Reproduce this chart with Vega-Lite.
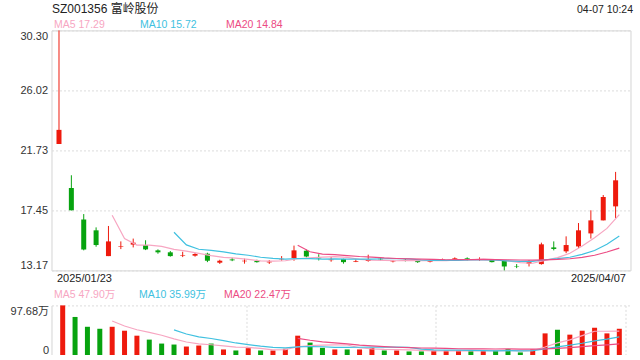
{
  "$schema": "https://vega.github.io/schema/vega-lite/v6.json",
  "background": "#ffffff",
  "padding": {"left": 9.5, "top": 1.4, "right": 0, "bottom": 0},
  "datasets": {
    "k": [
      {"d":"2025-01-23","i":0,"o":22.19,"h":30.3,"l":22.19,"c":23.2,"v":97.68},
      {"d":"2025-01-24","i":1,"o":19.05,"h":19.96,"l":17.45,"c":17.46,"v":75.1},
      {"d":"2025-01-27","i":2,"o":16.81,"h":17.19,"l":14.6,"c":14.67,"v":55.9},
      {"d":"2025-02-05","i":3,"o":16.03,"h":16.24,"l":14.86,"c":14.98,"v":52.0},
      {"d":"2025-02-06","i":4,"o":14.19,"h":16.34,"l":14.19,"c":15.24,"v":55.9,"MA5":17.11,"VMA5":67.32},
      {"d":"2025-02-07","i":5,"o":14.84,"h":15.24,"l":14.69,"c":14.88,"v":48.2,"MA5":15.45,"VMA5":57.42},
      {"d":"2025-02-10","i":6,"o":15.01,"h":15.44,"l":14.81,"c":15.15,"v":38.5,"MA5":14.98,"VMA5":50.10},
      {"d":"2025-02-11","i":7,"o":14.98,"h":15.32,"l":14.62,"c":14.67,"v":30.8,"MA5":14.98,"VMA5":45.08},
      {"d":"2025-02-12","i":8,"o":14.6,"h":14.67,"l":14.36,"c":14.46,"v":23.1,"MA5":14.88,"VMA5":39.30},
      {"d":"2025-02-13","i":9,"o":14.46,"h":14.55,"l":14.15,"c":14.19,"v":21.2,"MA5":14.67,"MA10":15.89,"VMA5":32.36,"VMA10":49.84},
      {"d":"2025-02-14","i":10,"o":14.2,"h":14.5,"l":14.12,"c":14.24,"v":17.3,"MA5":14.54,"MA10":14.99,"VMA5":26.18,"VMA10":41.80},
      {"d":"2025-02-17","i":11,"o":14.22,"h":14.4,"l":14.15,"c":14.34,"v":19.3,"MA5":14.38,"MA10":14.68,"VMA5":22.34,"VMA10":36.22},
      {"d":"2025-02-18","i":12,"o":14.36,"h":14.43,"l":13.76,"c":13.86,"v":23.1,"MA5":14.22,"MA10":14.60,"VMA5":20.80,"VMA10":32.94},
      {"d":"2025-02-19","i":13,"o":13.72,"h":13.93,"l":13.63,"c":13.86,"v":11.6,"MA5":14.10,"MA10":14.49,"VMA5":18.50,"VMA10":28.90},
      {"d":"2025-02-20","i":14,"o":13.95,"h":14.07,"l":13.83,"c":13.89,"v":9.6,"MA5":14.04,"MA10":14.35,"VMA5":16.18,"VMA10":24.27},
      {"d":"2025-02-21","i":15,"o":13.82,"h":14.01,"l":13.65,"c":13.86,"v":14.1,"MA5":13.96,"MA10":14.25,"VMA5":15.54,"VMA10":20.86},
      {"d":"2025-02-24","i":16,"o":13.84,"h":13.93,"l":13.72,"c":13.76,"v":9.6,"MA5":13.85,"MA10":14.11,"VMA5":13.60,"VMA10":17.97},
      {"d":"2025-02-25","i":17,"o":13.74,"h":13.91,"l":13.63,"c":13.8,"v":9.6,"MA5":13.83,"MA10":14.03,"VMA5":10.90,"VMA10":15.85},
      {"d":"2025-02-26","i":18,"o":13.96,"h":14.19,"l":13.86,"c":13.99,"v":12.9,"MA5":13.86,"MA10":13.98,"VMA5":11.16,"VMA10":14.83},
      {"d":"2025-02-27","i":19,"o":14.05,"h":14.94,"l":13.86,"c":14.6,"v":38.5,"MA5":14.00,"MA10":14.02,"MA20":14.96,"VMA5":16.94,"VMA10":16.56,"VMA20":33.20},
      {"d":"2025-02-28","i":20,"o":14.58,"h":14.65,"l":14.1,"c":14.17,"v":25.0,"MA5":14.06,"MA10":14.01,"MA20":14.50,"VMA5":19.12,"VMA10":17.33,"VMA20":29.57},
      {"d":"2025-03-03","i":21,"o":14.08,"h":14.32,"l":13.88,"c":14.03,"v":14.8,"MA5":14.12,"MA10":13.98,"MA20":14.33,"VMA5":20.16,"VMA10":16.88,"VMA20":26.55},
      {"d":"2025-03-04","i":22,"o":13.9,"h":14.12,"l":13.79,"c":13.94,"v":11.6,"MA5":14.15,"MA10":13.99,"MA20":14.30,"VMA5":20.56,"VMA10":15.73,"VMA20":24.34},
      {"d":"2025-03-05","i":23,"o":13.98,"h":14.0,"l":13.65,"c":13.76,"v":11.6,"MA5":14.10,"MA10":13.98,"MA20":14.23,"VMA5":20.30,"VMA10":15.73,"VMA20":22.32},
      {"d":"2025-03-06","i":24,"o":13.79,"h":13.96,"l":13.76,"c":13.84,"v":11.6,"MA5":13.95,"MA10":13.98,"MA20":14.16,"VMA5":14.92,"VMA10":15.93,"VMA20":20.10},
      {"d":"2025-03-07","i":25,"o":13.84,"h":14.29,"l":13.79,"c":13.94,"v":14.8,"MA5":13.90,"MA10":13.98,"MA20":14.12,"VMA5":12.88,"VMA10":16.00,"VMA20":18.43},
      {"d":"2025-03-10","i":26,"o":14.0,"h":14.12,"l":13.86,"c":13.96,"v":9.6,"MA5":13.89,"MA10":14.00,"MA20":14.06,"VMA5":11.84,"VMA10":16.00,"VMA20":16.99},
      {"d":"2025-03-11","i":27,"o":13.79,"h":13.91,"l":13.74,"c":13.82,"v":9.6,"MA5":13.86,"MA10":14.01,"MA20":14.02,"VMA5":11.44,"VMA10":16.00,"VMA20":15.93},
      {"d":"2025-03-12","i":28,"o":13.92,"h":13.98,"l":13.81,"c":13.89,"v":7.7,"MA5":13.89,"MA10":13.99,"MA20":13.99,"VMA5":10.66,"VMA10":15.48,"VMA20":15.16},
      {"d":"2025-03-13","i":29,"o":13.88,"h":13.9,"l":13.7,"c":13.76,"v":7.7,"MA5":13.87,"MA10":13.91,"MA20":13.97,"VMA5":9.88,"VMA10":12.40,"VMA20":14.48},
      {"d":"2025-03-14","i":30,"o":13.79,"h":13.96,"l":13.74,"c":13.92,"v":9.6,"MA5":13.87,"MA10":13.89,"MA20":13.95,"VMA5":8.84,"VMA10":10.86,"VMA20":14.10},
      {"d":"2025-03-17","i":31,"o":13.92,"h":14.01,"l":13.88,"c":13.95,"v":9.6,"MA5":13.87,"MA10":13.88,"MA20":13.93,"VMA5":8.84,"VMA10":10.34,"VMA20":13.61},
      {"d":"2025-03-18","i":32,"o":13.93,"h":14.1,"l":13.88,"c":14.03,"v":9.6,"MA5":13.91,"MA10":13.89,"MA20":13.94,"VMA5":8.84,"VMA10":10.14,"VMA20":12.94},
      {"d":"2025-03-19","i":33,"o":14.03,"h":14.1,"l":13.88,"c":13.98,"v":8.3,"MA5":13.93,"MA10":13.91,"MA20":13.94,"VMA5":8.96,"VMA10":9.81,"VMA20":12.77},
      {"d":"2025-03-20","i":34,"o":13.95,"h":14.1,"l":13.86,"c":13.97,"v":8.3,"MA5":13.97,"MA10":13.92,"MA20":13.95,"VMA5":9.08,"VMA10":9.48,"VMA20":12.71},
      {"d":"2025-03-21","i":35,"o":13.93,"h":13.96,"l":13.74,"c":13.76,"v":9.6,"MA5":13.94,"MA10":13.90,"MA20":13.94,"VMA5":9.08,"VMA10":8.96,"VMA20":12.48},
      {"d":"2025-03-24","i":36,"o":13.86,"h":13.9,"l":13.17,"c":13.45,"v":12.1,"MA5":13.84,"MA10":13.85,"MA20":13.93,"VMA5":9.58,"VMA10":9.21,"VMA20":12.61},
      {"d":"2025-03-25","i":37,"o":13.45,"h":13.62,"l":13.33,"c":13.42,"v":5.8,"MA5":13.72,"MA10":13.81,"MA20":13.91,"VMA5":8.82,"VMA10":8.83,"VMA20":12.42},
      {"d":"2025-03-26","i":38,"o":13.65,"h":13.91,"l":13.45,"c":13.81,"v":11.6,"MA5":13.68,"MA10":13.81,"MA20":13.90,"VMA5":9.48,"VMA10":9.22,"VMA20":12.35},
      {"d":"2025-03-27","i":39,"o":13.62,"h":15.15,"l":13.58,"c":15.03,"v":43.0,"MA5":13.89,"MA10":13.93,"MA20":13.92,"VMA5":16.42,"VMA10":12.75,"VMA20":12.58},
      {"d":"2025-03-28","i":40,"o":14.81,"h":15.24,"l":14.6,"c":14.7,"v":50.1,"MA5":14.08,"MA10":14.01,"MA20":13.95,"VMA5":24.52,"VMA10":16.80,"VMA20":13.83},
      {"d":"2025-03-31","i":41,"o":14.53,"h":15.6,"l":14.4,"c":14.98,"v":40.5,"MA5":14.39,"MA10":14.11,"MA20":14.00,"VMA5":30.20,"VMA10":19.89,"VMA20":15.12},
      {"d":"2025-04-01","i":42,"o":14.88,"h":16.55,"l":14.76,"c":16.03,"v":48.2,"MA5":14.91,"MA10":14.31,"MA20":14.10,"VMA5":38.68,"VMA10":23.75,"VMA20":16.95},
      {"d":"2025-04-02","i":43,"o":15.81,"h":17.46,"l":15.44,"c":16.74,"v":54.0,"MA5":15.50,"MA10":14.59,"MA20":14.25,"VMA5":47.16,"VMA10":28.32,"VMA20":19.07},
      {"d":"2025-04-03","i":44,"o":16.74,"h":18.55,"l":16.74,"c":18.41,"v":43.0,"MA5":16.17,"MA10":15.03,"MA20":14.48,"VMA5":47.16,"VMA10":31.79,"VMA20":20.64},
      {"d":"2025-04-07","i":45,"o":17.74,"h":20.2,"l":16.91,"c":19.6,"v":52.0,"MA5":17.15,"MA10":15.62,"MA20":14.76,"VMA5":47.54,"VMA10":36.03,"VMA20":22.50}
    ]
  },
  "data": {"name": "k"},
  "spacing": 35,
  "bounds": "flush",
  "vconcat": [
    {
      "width": 579,
      "height": 240,
      "view": {"stroke": "#d4d4d4", "strokeWidth": 1},
      "encoding": {
        "x": {"field": "i", "type": "quantitative", "scale": {"domain": [-0.5, 45.5], "nice": false, "zero": false},
          "axis": {"values": [-0.5, 45.5], "labelExpr": "datum.value < 0 ? '2025/01/23' : '2025/04/07'", "labelFlush": true,
            "labelAlign": {"condition": {"test": "datum.value < 0", "value": "left"}, "value": "right"},
            "ticks": false, "domain": false, "grid": false, "title": null, "labelPadding": 2, "labelColor": "#222222"}}
      },
      "layer": [
        {
          "mark": {"type": "rule", "xOffset": -3.7, "strokeWidth": 1},
          "encoding": {
            "y": {"field": "l", "type": "quantitative", "scale": {"domain": [13.17, 30.3], "nice": false, "zero": false},
              "axis": {"values": [13.17, 17.45, 21.73, 26.02, 30.3], "format": ".2f", "labelFlush": true, "ticks": false, "domain": false, "grid": true, "labelPadding": 4,
                "title": "SZ001356 富岭股份", "titleAngle": 0, "titleX": 0, "titleY": -18.3, "titleAlign": "left", "titleBaseline": "alphabetic", "titleFontSize": 12, "titleFontWeight": "normal", "titleColor": "#222222"}},
            "y2": {"field": "h"},
            "color": {"condition": {"test": "datum.c >= datum.o", "value": "#ee1a0d"}, "value": "#07a30f"}
          }
        },
        {
          "mark": {"type": "bar", "xOffset": -3.7, "size": 5},
          "encoding": {
            "y": {"field": "o", "type": "quantitative", "scale": {"domain": [13.17, 30.3], "nice": false, "zero": false}, "axis": null},
            "y2": {"field": "c"},
            "color": {"condition": {"test": "datum.c >= datum.o", "value": "#ee1a0d"}, "value": "#07a30f"}
          }
        },
        {
          "transform": [{"fold": ["MA5", "MA10", "MA20"], "as": ["k", "val"]}],
          "mark": {"type": "line", "strokeWidth": 1.2},
          "encoding": {
            "y": {"field": "val", "type": "quantitative", "scale": {"domain": [13.17, 30.3], "nice": false, "zero": false},
              "axis": {"orient": "right", "labels": false, "ticks": false, "domain": false, "grid": false,
                "title": "04-07 10:24", "titleAngle": 0, "titleX": 2, "titleY": -18, "titleAlign": "right", "titleBaseline": "alphabetic", "titleFontSize": 10.5, "titleFontWeight": "normal", "titleColor": "#222222"}},
            "color": {"field": "k", "type": "nominal",
              "scale": {"domain": ["MA5", "MA10", "MA20"], "range": ["#f7a6c2", "#40c1e0", "#ec4b83"]},
              "legend": {"title": null, "orient": "none", "legendX": -8, "legendY": -10.5, "direction": "horizontal", "columns": 3, "gridAlign": "all", "columnPadding": 18,
                "symbolSize": 0.01, "symbolStrokeWidth": 0, "symbolOpacity": 0, "labelOffset": 0, "padding": 0, "labelFontSize": 10.5,
                "labelExpr": "datum.label == 'MA5' ? 'MA5 17.29' : datum.label == 'MA10' ? 'MA10 15.72' : 'MA20 14.84'",
                "encoding": {"labels": {"fill": {"condition": [{"test": "datum.value === 'MA5'", "value": "#f7a6c2"}, {"test": "datum.value === 'MA10'", "value": "#40c1e0"}], "value": "#ec4b83"}}}}}
          }
        }
      ],
      "resolve": {"axis": {"y": "independent"}}
    },
    {
      "width": 579,
      "height": 50,
      "view": {"stroke": null},
      "encoding": {
        "x": {"field": "i", "type": "quantitative", "scale": {"domain": [-0.5, 45.5], "nice": false, "zero": false},
          "axis": {"values": [14.8333, 30.1667, 45.5], "labels": false, "ticks": false, "domain": false, "grid": true, "title": null}}
      },
      "layer": [
        {
          "mark": {"type": "bar", "size": 5},
          "encoding": {
            "y": {"field": "v", "type": "quantitative", "scale": {"domain": [0, 97.68], "nice": false},
              "axis": {"values": [0, 97.68], "labelExpr": "datum.value == 0 ? '0' : format(datum.value, '.2f') + '万'", "labelFlush": true, "grid": true, "domain": true, "ticks": false, "title": null, "labelPadding": 3}},
            "color": {"condition": {"test": "datum.c >= datum.o", "value": "#ee1a0d"}, "value": "#07a30f"}
          }
        },
        {
          "transform": [{"fold": ["VMA5", "VMA10", "VMA20"], "as": ["vk", "vval"]}],
          "mark": {"type": "line", "strokeWidth": 1.2},
          "encoding": {
            "y": {"field": "vval", "type": "quantitative", "scale": {"domain": [0, 97.68], "nice": false},
              "axis": {"values": [0, 97.68], "labelExpr": "datum.value == 0 ? '0' : format(datum.value, '.2f') + '万'", "labelFlush": true, "grid": true, "domain": true, "ticks": false, "title": null, "labelPadding": 3}},
            "color": {"field": "vk", "type": "nominal",
              "scale": {"domain": ["VMA5", "VMA10", "VMA20"], "range": ["#f7a6c2", "#40c1e0", "#ec4b83"]},
              "legend": {"title": null, "orient": "none", "legendX": -8, "legendY": -15.5, "direction": "horizontal", "columns": 3, "gridAlign": "all", "columnPadding": 7,
                "symbolSize": 0.01, "symbolStrokeWidth": 0, "symbolOpacity": 0, "labelOffset": 0, "padding": 0, "labelFontSize": 10.5,
                "labelExpr": "datum.label == 'VMA5' ? 'MA5 47.90万' : datum.label == 'VMA10' ? 'MA10 35.99万' : 'MA20 22.47万'",
                "encoding": {"labels": {"fill": {"condition": [{"test": "datum.value === 'VMA5'", "value": "#f7a6c2"}, {"test": "datum.value === 'VMA10'", "value": "#40c1e0"}], "value": "#ec4b83"}}}}}
          }
        }
      ]
    }
  ],
  "resolve": {"scale": {"x": "independent", "y": "independent", "color": "independent"}, "legend": {"color": "independent"}},
  "config": {
    "font": "Liberation Sans, Noto Sans CJK SC, sans-serif",
    "axis": {"labelFont": "Liberation Sans, Noto Sans CJK SC, sans-serif", "titleFont": "Liberation Sans, Noto Sans CJK SC, sans-serif", "labelFontSize": 11, "labelColor": "#333333", "gridColor": "#dcdcdc", "gridDash": [2, 2], "gridWidth": 1, "domainColor": "#d4d4d4"},
    "legend": {"labelFont": "Liberation Sans, Noto Sans CJK SC, sans-serif", "labelFontSize": 10.5},
    "title": {"font": "Liberation Sans, Noto Sans CJK SC, sans-serif"}
  }
}
